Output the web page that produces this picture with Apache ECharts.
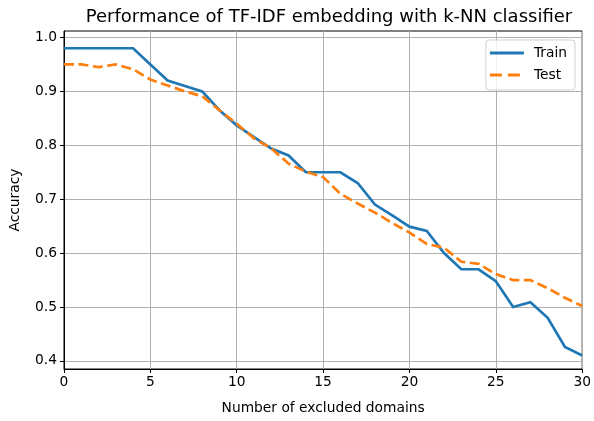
<!DOCTYPE html>
<html>
<head>
<meta charset="utf-8">
<script src="https://cdn.jsdelivr.net/npm/echarts@6/dist/echarts.min.js"></script>
<style>
  html, body { margin: 0; padding: 0; background: #fff; }
  #chart { width: 594px; height: 421px; }
</style>
</head>
<body>
<div id="chart"></div>
<script>
// Number of excluded domains (x axis)
const excluded = [0,1,2,3,4,5,6,7,8,9,10,11,12,13,14,15,16,17,18,19,20,21,22,23,24,25,26,27,28,29,30];
// Accuracy on the training split
const trainAcc = [0.98,0.98,0.98,0.98,0.98,0.95,0.92,0.91,0.90,0.865,0.837,0.815,0.794,0.781,0.75,0.75,0.75,0.73,0.69,0.67,0.649,0.641,0.60,0.57,0.57,0.548,0.50,0.509,0.48,0.426,0.41];
// Accuracy on the test split
const testAcc = [0.95,0.95,0.945,0.95,0.941,0.922,0.911,0.90,0.891,0.865,0.84,0.813,0.794,0.766,0.751,0.741,0.71,0.692,0.675,0.656,0.638,0.617,0.61,0.584,0.58,0.561,0.55,0.55,0.535,0.517,0.502];
// Y tick positions
const yTicks = [0.4,0.5,0.6,0.7,0.8,0.9,1.0];

const font = 'DejaVu Sans';
const fs = 13.8;
const chart = echarts.init(document.getElementById('chart'), null, {renderer: 'canvas'});

chart.setOption({
  animation: false,
  backgroundColor: '#fff',
  textStyle: { fontFamily: font },
  title: {
    text: 'Performance of TF-IDF embedding with k-NN classifier',
    left: 324, top: 3, textAlign: 'center',
    textStyle: { fontFamily: font, fontSize: 18, fontWeight: 'normal', color: '#000' }
  },
  legend: {
    right: 19, top: 40,
    orient: 'vertical',
    backgroundColor: 'rgba(255,255,255,0.8)',
    borderColor: '#d0d0d0', borderWidth: 1, borderRadius: 3,
    padding: [6, 8, 8, 4],
    itemGap: 8,
    itemWidth: 34, itemHeight: 14,
    textStyle: { fontFamily: font, fontSize: fs, color: '#000', padding: [0, 0, 0, 5] },
    data: [
      { name: 'Train', icon: 'path://M0,0 L34,0 L34,3 L0,3 Z' },
      { name: 'Test', icon: 'path://M0,0 L12,0 L12,3 L0,3 Z M18,0 L30,0 L30,3 L18,3 Z M34,0 L34,3 Z' }
    ]
  },
  grid: {
    left: 64, right: 9, top: 31, bottom: 52,
    show: true, borderColor: '#000', borderWidth: 1, backgroundColor: 'transparent'
  },
  xAxis: {
    type: 'value', min: 0, max: 30, interval: 5,
    name: 'Number of excluded domains', nameLocation: 'middle', nameGap: 32,
    nameTextStyle: { fontFamily: font, fontSize: fs, color: '#000' },
    axisLine: { show: true, onZero: false, lineStyle: { color: '#000', width: 1 } },
    axisTick: { show: true, inside: false, length: 4, lineStyle: { color: '#000' } },
    axisLabel: { fontFamily: font, fontSize: fs, color: '#000', margin: 6 },
    splitLine: { show: true, lineStyle: { color: '#b0b0b0', width: 1 } }
  },
  yAxis: {
    type: 'value', min: 0.385, max: 1.012,
    name: 'Accuracy', nameLocation: 'middle', nameGap: 42, nameRotate: 90,
    nameTextStyle: { fontFamily: font, fontSize: fs, color: '#000' },
    axisLine: { show: true, onZero: false, lineStyle: { color: '#000', width: 1 } },
    axisTick: { show: true, inside: false, length: 4, lineStyle: { color: '#000' }, customValues: yTicks },
    axisLabel: { fontFamily: font, fontSize: fs, color: '#000', margin: 7, customValues: yTicks,
      formatter: v => v.toFixed(1) },
    splitLine: { show: true, lineStyle: { color: '#b0b0b0', width: 1 } }
  },
  series: [
    {
      name: 'Train', type: 'line', symbol: 'none',
      data: excluded.map((x, i) => [x, trainAcc[i]]),
      lineStyle: { color: '#1f77b4', width: 2.7, cap: 'butt', join: 'miter' },
      itemStyle: { color: '#1f77b4' }
    },
    {
      name: 'Test', type: 'line', symbol: 'none',
      data: excluded.map((x, i) => [x, testAcc[i]]),
      lineStyle: { color: '#ff7f0e', width: 2.7, type: [10, 4.5], cap: 'butt', join: 'miter' },
      itemStyle: { color: '#ff7f0e' }
    }
  ]
});
</script>
</body>
</html>
